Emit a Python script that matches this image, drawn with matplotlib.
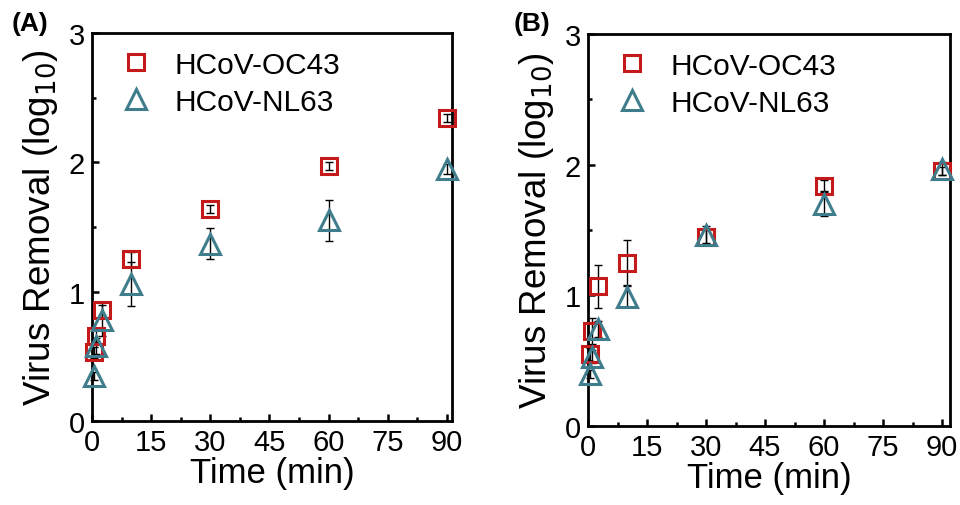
import matplotlib
matplotlib.use("Agg")
import matplotlib.pyplot as plt
from matplotlib.ticker import MultipleLocator

plt.rcParams['font.family'] = ['Liberation Sans', 'DejaVu Sans']

time = [0.5, 1, 2.5, 10, 30, 60, 90]

# Panel A
a_oc43 = [0.53, 0.66, 0.86, 1.25, 1.64, 1.97, 2.34]
a_oc43_err = [0.04, 0.05, 0.06, 0.06, 0.03, 0.03, 0.03]
a_nl63 = [0.35, 0.58, 0.78, 1.06, 1.37, 1.55, 1.95]
a_nl63_err = [0.03, 0.06, 0.12, 0.17, 0.12, 0.155, 0.04]

# Panel B
b_oc43 = [0.55, 0.73, 1.07, 1.25, 1.45, 1.84, 1.95]
b_oc43_err = [0.05, 0.1, 0.165, 0.17, 0.05, 0.04, 0.03]
b_nl63 = [0.40, 0.53, 0.74, 0.99, 1.46, 1.70, 1.97]
b_nl63_err = [0.03, 0.05, 0.06, 0.08, 0.07, 0.09, 0.05]

labels = ['HCoV-OC43', 'HCoV-NL63']
red = '#C41A1A'
teal = '#3F7D8C'

fig = plt.figure(figsize=(9.6, 5.06), dpi=100)
axA = fig.add_axes([0.0958, 0.166, 0.375, 0.767])
axB = fig.add_axes([0.6125, 0.156, 0.377, 0.775])

def draw(ax, oc, oce, nl, nle, xmax, panel, px):
    ax.errorbar(time, oc, yerr=oce, fmt='none', ecolor='black', elinewidth=1.0,
                capsize=3, capthick=1.0, zorder=2, clip_on=False)
    ax.errorbar(time, nl, yerr=nle, fmt='none', ecolor='black', elinewidth=1.0,
                capsize=3, capthick=1.0, zorder=2, clip_on=False)
    ax.plot(time, oc, linestyle='none', marker='s', markersize=11, markerfacecolor='none',
            markeredgecolor=red, markeredgewidth=2.2, label=labels[0], zorder=3, clip_on=False)
    ax.plot(time, nl, linestyle='none', marker='^', markersize=15, markerfacecolor='none',
            markeredgecolor=teal, markeredgewidth=2.2, label=labels[1], zorder=4, clip_on=False)
    ax.set_xlim(0, xmax)
    ax.set_ylim(0, 3)
    ax.xaxis.set_major_locator(MultipleLocator(15))
    ax.xaxis.set_minor_locator(MultipleLocator(7.5))
    ax.yaxis.set_major_locator(MultipleLocator(1))
    ax.yaxis.set_minor_locator(MultipleLocator(0.5))
    ax.tick_params(which='both', direction='in', width=1.8, labelsize=21)
    ax.tick_params(axis='x', pad=5)
    ax.tick_params(axis='y', pad=5)
    ax.tick_params(which='major', length=5)
    ax.tick_params(which='minor', length=3)
    for s in ax.spines.values():
        s.set_linewidth(2.0)
    ax.set_xlabel('Time (min)', fontsize=25, labelpad=0)
    ax.set_ylabel('Virus Removal (log$_{10}$)', fontsize=26.5, labelpad=6)
    ax.legend(loc='upper left', frameon=False, fontsize=21.5, handletextpad=0.3,
              borderaxespad=0.2, labelspacing=0.3, bbox_to_anchor=(-0.01, 1.0))
    fig.text(px, 0.952, panel, fontsize=19, fontweight='bold', ha='left', va='center')

draw(axA, a_oc43, a_oc43_err, a_nl63, a_nl63_err, 91.3, '(A)', 0.012)
draw(axB, b_oc43, b_oc43_err, b_nl63, b_nl63_err, 92, '(B)', 0.535)

fig.savefig('out.png', dpi=100)
